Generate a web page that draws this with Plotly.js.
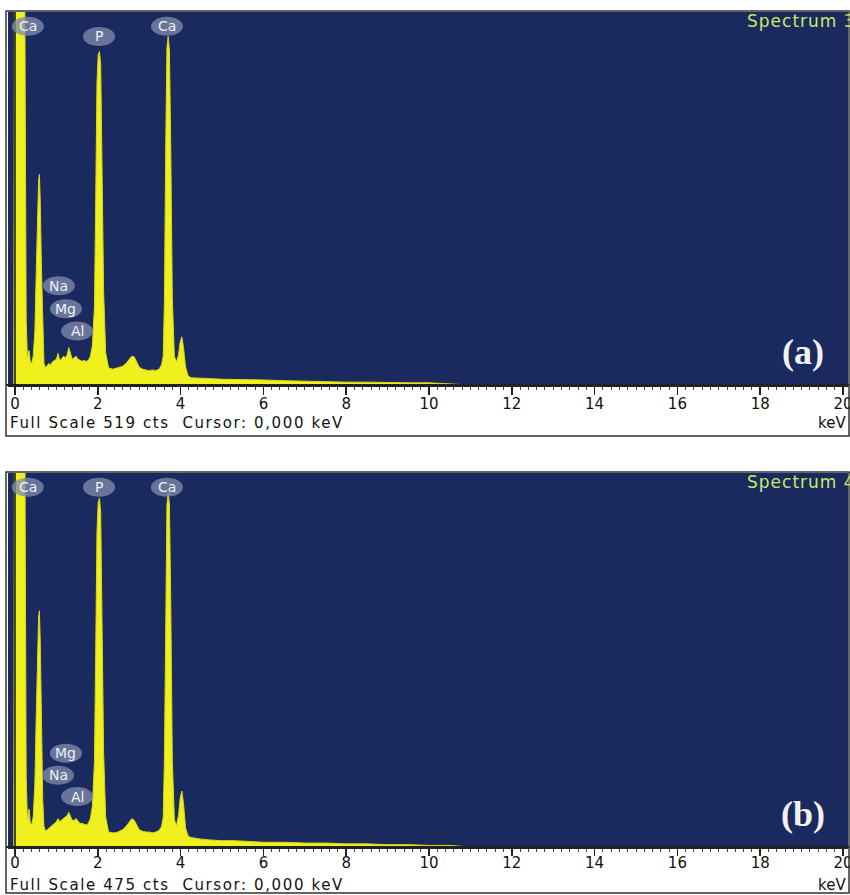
<!DOCTYPE html>
<html><head><meta charset="utf-8">
<script src="https://cdn.plot.ly/plotly-3.0.1.min.js"></script>
<style>html,body{margin:0;padding:0;background:#fff;} #chart{width:850px;height:895px;}</style>
</head><body><div id="chart"></div>
<script>
// ---- data ----
const energyKeV = [
  -0.03, 0.00, 0.05, 0.10, 0.15, 0.19, 0.22, 0.24, 0.27, 0.30,
  0.34, 0.37, 0.40, 0.44, 0.48, 0.51, 0.54, 0.57, 0.59, 0.61,
  0.64, 0.67, 0.70, 0.74, 0.78, 0.82, 0.86, 0.90, 0.95, 1.00,
  1.04, 1.08, 1.12, 1.17, 1.22, 1.26, 1.30, 1.34, 1.38, 1.43,
  1.48, 1.52, 1.57, 1.62, 1.67, 1.72, 1.77, 1.82, 1.87, 1.92,
  1.95, 1.98, 2.01, 2.04, 2.07, 2.10, 2.14, 2.19, 2.26, 2.36,
  2.44, 2.52, 2.60, 2.68, 2.76, 2.82, 2.88, 2.94, 3.00, 3.08,
  3.16, 3.24, 3.32, 3.40, 3.48, 3.54, 3.58, 3.61, 3.64, 3.67,
  3.70, 3.73, 3.76, 3.80, 3.85, 3.90, 3.95, 3.99, 4.03, 4.07,
  4.12, 4.18, 4.25, 4.35, 4.50, 4.70, 5.00, 5.30, 5.60, 6.00,
  6.50, 7.00, 7.50, 8.00, 8.50, 9.00, 9.50, 10.0, 10.5, 11.0,
  12.0, 13.0, 14.0, 15.0, 16.0, 17.0, 18.0, 19.0, 20.0
];
const countsA = [
  0, 900, 900, 900, 900, 900, 900, 500, 90, 38,
  48, 32, 30, 40, 75, 150, 240, 285, 293, 255,
  160, 70, 30, 24, 28, 30, 28, 32, 34, 36,
  44, 34, 36, 40, 38, 42, 52, 44, 36, 38,
  40, 36, 34, 33, 34, 33, 34, 40, 55, 110,
  260, 420, 460, 464, 445, 330, 130, 45, 24, 22,
  23, 24, 26, 30, 36, 40, 39, 32, 25, 22,
  21, 20, 21, 20, 22, 28, 40, 120, 330, 470,
  485, 465, 340, 120, 40, 32, 42, 60, 67, 52,
  25, 13, 10, 10, 9, 9, 8, 8, 7, 7,
  6, 5, 4, 4, 4, 3, 3, 3, 2, 0,
  0, 0, 0, 0, 0, 0, 0, 0, 0
];
const countsB = [
  0, 900, 900, 900, 900, 900, 900, 500, 90, 34,
  48, 30, 28, 38, 80, 160, 250, 292, 300, 260,
  160, 60, 26, 20, 22, 24, 26, 28, 30, 32,
  36, 32, 34, 36, 38, 40, 44, 40, 34, 34,
  36, 33, 30, 30, 29, 28, 30, 36, 52, 110,
  250, 400, 438, 443, 425, 310, 120, 38, 19, 18,
  18, 20, 22, 26, 32, 36, 34, 28, 22, 20,
  19, 19, 18, 19, 21, 26, 38, 115, 310, 435,
  450, 435, 320, 110, 35, 27, 40, 62, 71, 55,
  24, 14, 12, 11, 10, 9, 8, 8, 7, 6,
  6, 5, 5, 4, 4, 3, 3, 2, 2, 0,
  0, 0, 0, 0, 0, 0, 0, 0, 0
];
const fullScaleA = 519;
const fullScaleB = 475;
const cursorKeV = 0;
const cursorText = '0,000';
const spectrumNames = ['Spectrum 3', 'Spectrum 4'];
const panelLetters = ['(a)', '(b)'];
const tickVals = [0, 2, 4, 6, 8, 10, 12, 14, 16, 18, 20];
const tickText = ['0', '2', '4', '6', '8', '10', '12', '14', '16', '18', '20'];
const labelTextA = ['Ca', 'P', 'Ca', 'Na', 'Mg', 'Al'];
const labelKeVA  = [0.31, 2.03, 3.67, 1.06, 1.23, 1.50];
const labelCtsA  = [499, 485, 499, 138, 106, 75];
const labelTextB = ['Ca', 'P', 'Ca', 'Mg', 'Na', 'Al'];
const labelKeVB  = [0.31, 2.03, 3.67, 1.23, 1.04, 1.50];
const labelCtsB  = [457, 457, 457, 119, 91, 64];

// ---- styling / layout helpers ----
const W = 850, H = 895;
const px = x => x / W;
const py = y => 1 - y / H;
const NAVY = '#1b2a5e';
const YEL = '#f0f01e';
const SANS = 'DejaVu Sans, Verdana, sans-serif';

const panels = [
  {counts: countsA, full: fullScaleA, top: 12, bottom: 385, stripBottom: 436, textY: 423, ticklen: 8, standoff: -4,
   labels: [labelTextA, labelKeVA, labelCtsA], ax: '', name: spectrumNames[0], letter: panelLetters[0]},
  {counts: countsB, full: fullScaleB, top: 473, bottom: 847, stripBottom: 893, textY: 885, ticklen: 7, standoff: -6,
   labels: [labelTextB, labelKeVB, labelCtsB], ax: '2', name: spectrumNames[1], letter: panelLetters[1]}
];

const traces = [];
const layout = {
  width: W, height: H,
  margin: {l: 0, r: 0, t: 0, b: 0},
  paper_bgcolor: '#ffffff',
  plot_bgcolor: NAVY,
  showlegend: false,
  shapes: [],
  annotations: []
};
const spacedAnn = []; // [annotation index, letter-spacing]

panels.forEach((p, i) => {
  const xa = 'x' + p.ax, ya = 'y' + p.ax;
  traces.push({
    type: 'scatter', mode: 'lines',
    x: energyKeV, y: p.counts,
    xaxis: xa, yaxis: ya,
    fill: 'tozeroy', fillcolor: YEL,
    line: {color: '#d8d818', width: 1},
    hoverinfo: 'skip'
  });
  layout['xaxis' + p.ax] = {
    anchor: ya,
    domain: [px(8), px(848)],
    range: [-0.169, 20.12],
    tickmode: 'array', tickvals: tickVals, ticktext: tickText,
    ticks: 'outside', ticklen: p.ticklen, tickwidth: 1.5, tickcolor: '#222',
    ticklabelstandoff: p.standoff,
    tickfont: {family: SANS, size: 15, color: '#111'},
    ticklabeloverflow: 'allow',
    minor: {tickmode: 'linear', tick0: 0, dtick: 0.2, ticks: 'outside', ticklen: 3, tickcolor: '#444', tickwidth: 1, showgrid: false},
    showline: true, linecolor: '#222', linewidth: 2,
    showgrid: false, zeroline: false, fixedrange: true
  };
  layout['yaxis' + p.ax] = {
    anchor: xa,
    domain: [py(p.bottom), py(p.top)],
    range: [0, p.full],
    visible: false, fixedrange: true
  };
  // frames
  layout.shapes.push({type: 'rect', xref: 'paper', yref: 'paper', x0: px(6), x1: px(849), y0: py(p.stripBottom), y1: py(p.top - 1), line: {color: '#333', width: 1.5}, fillcolor: 'rgba(0,0,0,0)', layer: 'above'});
  layout.shapes.push({type: 'line', xref: 'paper', yref: 'paper', x0: px(6), x1: px(849), y0: py(p.bottom), y1: py(p.bottom), line: {color: '#222', width: 2}, layer: 'above'});
  // cursor line
  layout.shapes.push({type: 'line', xref: xa, yref: ya + ' domain', x0: cursorKeV, x1: cursorKeV, y0: 0, y1: 1, line: {color: '#151515', width: 1.5}, layer: 'above'});
  // element label bubbles
  const [txt, kev, cts] = p.labels;
  txt.forEach((t, j) => {
    layout.shapes.push({
      type: 'circle', xref: xa, yref: ya,
      xsizemode: 'pixel', xanchor: kev[j], x0: -16, x1: 16,
      ysizemode: 'pixel', yanchor: cts[j], y0: -9.5, y1: 9.5,
      fillcolor: 'rgba(125,138,170,0.78)', line: {width: 0}, layer: 'above'
    });
    layout.annotations.push({
      xref: xa, yref: ya, x: kev[j], y: cts[j], text: t, showarrow: false,
      font: {family: SANS, size: 14, color: '#eef0f6'}, xanchor: 'center', yanchor: 'middle'
    });
  });
  // spectrum name
  spacedAnn.push([layout.annotations.length, '1px']);
  layout.annotations.push({
    xref: 'paper', yref: 'paper', x: px(745), y: py(p.top + 9), text: p.name, showarrow: false,
    xanchor: 'left', yanchor: 'middle', align: 'left', font: {family: SANS, size: 17, color: '#c6ea68'}
  });
  // panel letter
  layout.annotations.push({
    xref: 'paper', yref: 'paper', x: px(803), y: py(p.bottom - 33), text: '<b>' + p.letter + '</b>', showarrow: false,
    xanchor: 'center', yanchor: 'middle', font: {family: 'Liberation Serif, Times New Roman, serif', size: 36, color: '#f2f2f2'}
  });
  // status text in strip
  spacedAnn.push([layout.annotations.length, '1.6px']);
  layout.annotations.push({
    xref: 'paper', yref: 'paper', x: px(8), y: py(p.textY), text: 'Full Scale ' + p.full + ' cts\u00a0\u00a0Cursor: ' + cursorText + ' keV', showarrow: false,
    xanchor: 'left', yanchor: 'middle', align: 'left', font: {family: SANS, size: 15, color: '#111'}
  });
  layout.annotations.push({
    xref: 'paper', yref: 'paper', x: px(848), y: py(p.textY), text: 'keV', showarrow: false,
    xanchor: 'right', yanchor: 'middle', align: 'right', font: {family: SANS, size: 15, color: '#111'}
  });
});

Plotly.newPlot('chart', traces, layout, {staticPlot: true, displayModeBar: false}).then(gd => {
  spacedAnn.forEach(([idx, sp]) => {
    const g = gd.querySelector('.annotation[data-index="' + idx + '"] text');
    if (g) g.style.letterSpacing = sp;
  });
});
</script>
</body></html>
